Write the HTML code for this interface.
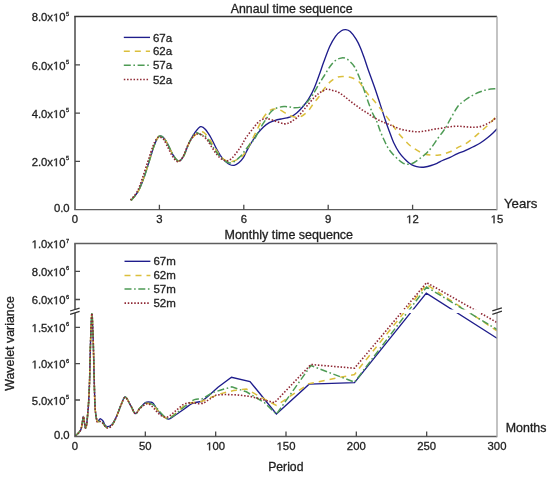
<!DOCTYPE html><html><head><meta charset="utf-8"><style>html,body{margin:0;padding:0;background:#fff;}svg{display:block;will-change:transform;}text{font-family:"Liberation Sans",sans-serif;fill:#1e1e1e;stroke:#222;stroke-width:0.3px;}.o{fill-opacity:0;stroke-opacity:0;}</style></head><body>
<svg width="550" height="477" viewBox="0 0 550 477">
<rect width="550" height="477" fill="#fff"/>
<defs><clipPath id="ct"><rect x="75" y="16.55" width="422" height="193.1"/></clipPath>
<clipPath id="cb"><path d="M75,243.5 H497 V436.5 H75 Z M70,309.6 L502,309.6 L502,313.0 L70,313.0 Z" clip-rule="evenodd"/></clipPath></defs>
<path d="M131.0,200.5 C132.2,199.0 135.8,195.4 138.0,191.6 C140.2,187.8 142.0,182.9 143.9,177.7 C145.8,172.5 147.7,165.9 149.4,160.5 C151.1,155.1 152.8,149.2 154.2,145.5 C155.6,141.8 156.6,139.6 157.6,138.0 C158.6,136.4 159.2,135.9 160.3,136.0 C161.4,136.1 162.9,136.8 164.3,138.5 C165.7,140.2 167.3,143.5 168.8,146.3 C170.3,149.1 171.7,152.9 173.3,155.3 C174.9,157.8 176.8,160.8 178.5,161.0 C180.2,161.2 181.7,159.4 183.5,156.3 C185.3,153.2 187.5,146.3 189.4,142.3 C191.3,138.3 193.3,134.8 195.2,132.2 C197.1,129.6 198.9,127.2 200.6,126.7 C202.3,126.2 203.8,127.6 205.5,129.5 C207.2,131.4 209.4,135.0 211.1,138.0 C212.8,141.0 214.2,144.4 215.7,147.3 C217.2,150.2 218.8,153.0 220.3,155.3 C221.9,157.6 223.4,159.6 225.0,161.1 C226.6,162.6 228.1,163.8 229.6,164.5 C231.1,165.2 232.7,165.6 234.2,165.3 C235.7,165.0 237.3,164.1 238.8,162.8 C240.3,161.5 242.1,159.5 243.4,157.6 C244.7,155.7 245.1,154.1 246.5,151.5 C247.9,148.9 249.8,145.2 251.7,142.2 C253.5,139.2 255.6,135.9 257.6,133.4 C259.6,130.9 261.6,128.7 263.5,126.9 C265.4,125.1 267.4,123.7 269.3,122.6 C271.2,121.5 273.2,120.9 275.2,120.3 C277.2,119.7 279.1,119.4 281.1,119.0 C283.1,118.6 285.4,118.2 287.0,117.8 C288.6,117.4 289.4,117.5 291.0,116.7 C292.6,115.9 294.8,114.6 296.7,113.0 C298.6,111.4 300.6,109.3 302.6,107.0 C304.6,104.7 306.5,102.5 308.5,99.2 C310.5,96.0 312.8,91.5 314.5,87.5 C316.2,83.5 317.4,79.8 319.0,75.5 C320.6,71.2 322.0,66.6 323.8,61.8 C325.6,57.0 327.8,50.9 329.7,46.6 C331.6,42.4 333.6,38.9 335.5,36.3 C337.4,33.6 339.7,31.8 341.4,30.7 C343.1,29.6 344.3,29.5 345.8,29.6 C347.3,29.8 348.5,30.0 350.2,31.6 C351.9,33.2 354.4,36.4 356.1,39.1 C357.8,41.8 359.2,44.8 360.5,47.9 C361.8,51.0 362.8,53.9 364.1,57.5 C365.4,61.1 366.5,65.0 368.2,69.7 C369.9,74.5 372.2,80.4 374.1,86.0 C376.1,91.6 378.0,97.6 379.9,103.4 C381.8,109.2 384.0,116.3 385.6,121.0 C387.2,125.7 388.2,128.2 389.5,131.8 C390.8,135.4 392.0,139.1 393.6,142.5 C395.2,145.9 397.2,149.6 399.1,152.3 C401.0,155.1 403.0,157.2 404.7,159.0 C406.4,160.8 407.8,162.1 409.4,163.2 C411.0,164.3 412.5,165.2 414.2,165.8 C415.9,166.5 417.7,166.9 419.5,167.1 C421.3,167.3 423.1,167.3 425.0,167.0 C426.9,166.7 429.1,166.1 431.1,165.5 C433.1,164.9 435.1,164.1 437.0,163.3 C438.9,162.5 440.3,161.5 442.5,160.5 C444.7,159.5 447.6,158.6 450.1,157.4 C452.6,156.2 455.1,154.7 457.6,153.6 C460.1,152.5 462.7,151.7 465.2,150.6 C467.7,149.5 470.2,148.3 472.7,147.0 C475.2,145.7 477.8,144.6 480.3,143.0 C482.8,141.4 485.7,139.2 487.8,137.5 C489.9,135.8 491.5,134.4 493.0,133.0 C494.5,131.6 496.3,129.5 497.0,128.8" stroke="#1f1d8c" stroke-width="1.35" fill="none" clip-path="url(#ct)"/>
<path d="M131.0,200.5 C132.2,199.0 135.8,195.4 138.0,191.6 C140.2,187.8 142.0,182.9 143.9,177.7 C145.8,172.5 147.7,165.9 149.4,160.5 C151.1,155.1 152.8,149.2 154.2,145.5 C155.6,141.8 156.6,139.6 157.6,138.0 C158.6,136.4 159.2,135.9 160.3,136.0 C161.4,136.1 162.9,136.8 164.3,138.5 C165.7,140.2 167.3,143.5 168.8,146.3 C170.3,149.1 171.7,152.9 173.3,155.3 C174.9,157.8 176.8,160.8 178.5,161.0 C180.2,161.2 181.7,159.4 183.5,156.3 C185.3,153.2 187.5,145.9 189.4,142.3 C191.3,138.8 193.1,136.8 195.2,135.0 C197.3,133.2 200.1,131.8 201.9,131.7 C203.7,131.6 204.7,133.2 206.0,134.5 C207.3,135.8 208.4,137.3 210.0,139.8 C211.6,142.3 213.8,146.4 215.7,149.3 C217.6,152.2 219.6,155.3 221.5,157.3 C223.4,159.3 225.6,160.6 227.3,161.3 C229.1,162.0 230.1,161.9 232.0,161.5 C233.9,161.1 236.7,159.9 238.8,158.6 C240.9,157.3 242.6,156.0 244.5,153.5 C246.4,151.0 248.4,147.0 250.3,143.4 C252.2,139.8 254.2,135.6 256.1,131.7 C258.1,127.8 260.3,122.9 262.0,119.9 C263.7,116.9 265.1,115.1 266.4,113.5 C267.7,111.9 268.8,111.0 270.0,110.3 C271.2,109.5 272.1,109.1 273.7,109.0 C275.3,108.9 277.4,109.0 279.6,109.8 C281.8,110.6 284.8,112.9 286.9,114.0 C289.0,115.1 290.1,115.8 292.0,116.3 C293.9,116.8 296.3,117.5 298.2,117.3 C300.1,117.1 301.8,116.1 303.5,115.0 C305.2,113.9 306.8,112.5 308.5,110.6 C310.2,108.7 311.8,105.8 313.5,103.5 C315.2,101.2 317.1,99.2 318.7,97.0 C320.3,94.8 321.5,92.4 323.0,90.3 C324.5,88.2 326.0,86.3 327.5,84.6 C329.0,82.9 330.3,81.6 332.0,80.3 C333.7,79.0 336.1,77.7 337.9,77.0 C339.7,76.3 341.3,76.4 343.0,76.4 C344.7,76.4 346.6,76.6 348.3,76.9 C350.0,77.2 351.3,77.4 353.1,78.2 C354.9,79.0 357.2,80.1 359.0,81.8 C360.8,83.5 362.1,86.2 363.8,88.5 C365.5,90.8 367.5,93.7 369.0,95.5 C370.5,97.3 371.4,97.7 373.0,99.5 C374.6,101.3 376.6,103.9 378.5,106.3 C380.4,108.7 382.2,111.0 384.3,113.7 C386.4,116.4 388.9,119.5 390.9,122.3 C392.9,125.1 394.3,127.8 396.4,130.5 C398.4,133.2 400.9,136.1 403.2,138.6 C405.5,141.1 407.7,143.6 410.0,145.5 C412.3,147.4 414.5,148.8 416.8,150.2 C419.1,151.6 421.4,152.9 423.7,153.7 C426.0,154.5 428.2,154.8 430.5,155.0 C432.8,155.2 435.3,155.3 437.3,155.2 C439.3,155.1 440.4,155.0 442.5,154.4 C444.6,153.8 447.5,152.9 450.0,151.8 C452.5,150.7 455.1,148.9 457.6,147.6 C460.1,146.3 462.7,145.5 465.2,144.0 C467.7,142.5 470.2,140.5 472.7,138.5 C475.2,136.5 477.8,134.1 480.3,131.9 C482.8,129.7 485.0,128.0 487.8,125.3 C490.6,122.6 495.5,117.1 497.0,115.5" stroke="#dbbf3c" stroke-width="1.5" fill="none" stroke-dasharray="6 5" clip-path="url(#ct)"/>
<path d="M131.0,200.5 C132.2,199.0 135.8,195.4 138.0,191.6 C140.2,187.8 142.0,182.9 143.9,177.7 C145.8,172.5 147.7,165.9 149.4,160.5 C151.1,155.1 152.8,149.2 154.2,145.5 C155.6,141.8 156.6,139.6 157.6,138.0 C158.6,136.4 159.2,135.9 160.3,136.0 C161.4,136.1 162.9,136.8 164.3,138.5 C165.7,140.2 167.3,143.5 168.8,146.3 C170.3,149.1 171.7,152.9 173.3,155.3 C174.9,157.8 176.8,160.8 178.5,161.0 C180.2,161.2 181.7,159.4 183.5,156.3 C185.3,153.2 187.5,146.2 189.4,142.3 C191.3,138.4 193.4,134.3 195.2,133.0 C197.0,131.7 198.3,133.6 200.0,134.2 C201.7,134.8 203.7,134.9 205.5,136.5 C207.3,138.1 209.4,141.6 211.1,144.0 C212.8,146.4 214.2,148.8 215.7,151.0 C217.2,153.2 218.8,155.3 220.3,157.0 C221.9,158.7 223.4,160.0 225.0,161.0 C226.6,162.0 228.1,162.9 229.6,163.0 C231.1,163.1 232.5,162.5 234.2,161.5 C235.9,160.5 238.2,158.6 240.0,156.8 C241.8,155.0 243.3,152.6 245.0,150.5 C246.7,148.4 248.4,145.9 250.0,144.0 C251.6,142.1 252.9,141.5 254.7,138.8 C256.4,136.1 258.6,131.2 260.5,127.8 C262.4,124.4 264.7,121.3 266.4,118.7 C268.1,116.1 269.1,113.8 270.8,112.0 C272.5,110.2 274.5,108.9 276.7,108.0 C278.9,107.1 281.8,106.8 284.0,106.6 C286.2,106.4 288.3,106.8 289.9,107.0 C291.5,107.2 291.9,107.7 293.8,107.7 C295.7,107.7 298.9,107.8 301.1,106.9 C303.3,106.0 305.0,104.4 307.0,102.3 C309.0,100.2 310.9,97.5 312.9,94.5 C314.8,91.5 316.8,87.7 318.7,84.5 C320.6,81.3 322.5,78.5 324.4,75.5 C326.3,72.5 328.1,69.0 330.0,66.5 C331.9,64.0 333.6,61.9 335.5,60.5 C337.4,59.1 339.7,58.2 341.4,57.9 C343.1,57.5 344.3,57.8 345.8,58.4 C347.3,59.0 348.7,60.4 350.2,61.8 C351.7,63.2 353.1,64.5 354.6,67.0 C356.1,69.5 357.7,73.4 359.2,77.0 C360.7,80.6 362.1,84.3 363.6,88.5 C365.1,92.7 366.7,97.9 368.2,102.0 C369.7,106.1 371.1,109.9 372.6,113.2 C374.1,116.5 375.8,119.1 377.0,122.0 C378.2,124.9 378.8,127.5 380.0,130.5 C381.2,133.5 382.7,137.1 384.1,140.0 C385.5,142.9 386.6,145.7 388.2,148.2 C389.8,150.7 391.8,153.0 393.6,155.0 C395.4,157.0 397.5,158.9 399.1,160.3 C400.7,161.7 401.8,162.5 403.0,163.2 C404.2,163.8 405.3,164.1 406.5,164.2 C407.7,164.3 408.7,164.3 410.0,164.0 C411.3,163.7 412.2,163.7 414.2,162.5 C416.1,161.3 419.5,158.8 421.7,157.1 C423.9,155.4 425.7,153.9 427.4,152.2 C429.1,150.5 430.4,149.0 432.1,146.7 C433.8,144.4 436.0,140.9 437.7,138.5 C439.4,136.1 441.1,134.1 442.5,132.2 C443.9,130.2 444.9,128.9 446.2,126.8 C447.5,124.7 448.2,122.8 450.1,119.5 C452.0,116.2 455.1,110.0 457.6,106.7 C460.1,103.5 462.7,101.9 465.2,100.0 C467.7,98.1 470.2,96.7 472.7,95.3 C475.2,93.9 477.8,92.8 480.3,91.8 C482.8,90.8 485.0,90.0 487.8,89.5 C490.6,89.0 495.5,88.7 497.0,88.5" stroke="#4e9b55" stroke-width="1.5" fill="none" stroke-dasharray="7 2.6 1.6 2.6" clip-path="url(#ct)"/>
<path d="M130.5,200.0 C131.6,198.7 135.0,195.6 137.0,192.0 C139.0,188.4 140.5,183.7 142.3,178.5 C144.1,173.3 146.2,166.4 148.0,161.0 C149.8,155.6 151.6,149.7 153.0,146.0 C154.4,142.3 155.5,140.5 156.5,139.0 C157.5,137.5 157.8,137.1 159.0,137.2 C160.2,137.2 162.0,137.6 163.5,139.3 C165.0,141.1 166.5,144.9 168.0,147.7 C169.5,150.5 170.9,154.0 172.5,156.3 C174.1,158.6 175.9,161.4 177.6,161.6 C179.3,161.8 180.8,160.3 182.6,157.3 C184.4,154.3 186.6,147.4 188.6,143.7 C190.6,140.0 192.7,136.8 194.3,135.2 C196.0,133.6 197.2,134.0 198.5,134.0 C199.8,134.0 200.6,134.3 201.9,135.2 C203.2,136.1 205.0,137.4 206.5,139.2 C208.0,141.0 209.6,143.8 211.1,146.1 C212.6,148.4 214.2,151.0 215.7,153.0 C217.2,155.0 218.8,156.9 220.3,158.2 C221.9,159.4 223.7,160.1 225.0,160.5 C226.3,160.9 227.2,161.0 228.4,160.6 C229.6,160.2 230.8,159.3 231.9,158.2 C233.1,157.1 234.2,155.6 235.3,154.2 C236.5,152.8 237.7,151.2 238.8,149.6 C240.0,148.0 241.0,146.4 242.2,144.4 C243.4,142.4 244.3,140.2 245.9,137.8 C247.5,135.4 249.8,132.7 251.7,130.2 C253.6,127.7 255.9,124.7 257.6,122.9 C259.3,121.1 260.5,120.3 262.0,119.6 C263.5,118.9 264.7,118.5 266.4,118.6 C268.1,118.7 270.4,119.4 272.3,120.0 C274.2,120.6 276.2,121.5 278.1,122.1 C280.1,122.7 282.4,123.6 284.0,123.8 C285.6,124.0 286.8,123.7 288.0,123.3 C289.2,122.9 290.1,122.4 291.5,121.5 C292.9,120.6 294.8,119.6 296.7,117.9 C298.6,116.2 300.6,113.6 302.6,111.3 C304.6,109.0 306.6,106.3 308.5,104.0 C310.4,101.7 312.6,99.2 314.3,97.4 C316.0,95.7 317.1,94.6 318.5,93.5 C319.9,92.4 321.5,91.7 322.8,91.0 C324.1,90.3 325.0,89.5 326.1,89.3 C327.2,89.0 328.3,89.3 329.4,89.5 C330.5,89.7 331.6,90.2 332.7,90.5 C333.8,90.8 334.9,90.9 336.0,91.3 C337.1,91.7 338.2,92.2 339.3,92.8 C340.4,93.4 341.5,94.2 342.6,95.0 C343.7,95.8 344.9,96.7 345.9,97.5 C346.9,98.3 347.8,99.2 348.8,100.0 C349.8,100.8 351.0,101.7 352.1,102.5 C353.2,103.3 354.3,104.2 355.4,105.0 C356.5,105.8 357.6,106.4 358.7,107.2 C359.8,108.0 360.9,109.0 362.0,109.8 C363.1,110.6 364.2,111.1 365.3,111.8 C366.4,112.5 367.4,113.0 368.6,113.8 C369.8,114.6 371.0,115.8 372.6,116.8 C374.2,117.8 376.6,119.0 378.5,120.0 C380.4,121.0 382.4,121.8 384.3,122.6 C386.2,123.4 388.4,124.2 390.0,124.8 C391.6,125.4 391.9,125.7 393.6,126.4 C395.4,127.1 398.2,128.4 400.5,129.1 C402.8,129.8 405.0,130.2 407.3,130.6 C409.6,131.0 411.8,131.4 414.1,131.6 C416.4,131.8 418.6,131.8 420.9,131.6 C423.2,131.4 425.4,130.9 427.7,130.5 C430.0,130.1 432.1,129.5 434.6,129.1 C437.1,128.7 439.9,128.5 442.5,128.1 C445.1,127.7 447.6,127.1 450.1,126.8 C452.6,126.5 455.1,126.2 457.6,126.2 C460.1,126.2 462.7,126.6 465.2,126.8 C467.7,127.0 470.2,127.2 472.7,127.2 C475.2,127.2 477.8,127.2 480.3,126.6 C482.8,126.0 485.8,124.4 487.8,123.4 C489.8,122.4 491.0,121.9 492.5,120.8 C494.0,119.7 496.2,117.6 497.0,117.0" stroke="#8f2834" stroke-width="1.6" fill="none" stroke-dasharray="1.5 1.75" clip-path="url(#ct)"/>
<path d="M75,16.55 V209.65" stroke="#4a4a4a" stroke-width="1.5" fill="none"/>
<path d="M74.25,209.65 H497" stroke="#5c5c5c" stroke-width="1.4" fill="none"/>
<path d="M74.25,16.55 H497" stroke="#333" stroke-width="1.4" fill="none"/>
<path d="M497,16.55 V210.35" stroke="#a4a4a4" stroke-width="1.3" fill="none"/>
<path d="M75,161.38 h5 M75,113.10 h5 M75,64.83 h5 M159.40,209.65 v-5 M243.80,209.65 v-5 M328.20,209.65 v-5 M412.60,209.65 v-5 " stroke="#4a4a4a" stroke-width="1.3" fill="none"/>
<text x="65.6" y="166.2" font-size="11.3" text-anchor="end">2.0x<tspan class="o">1</tspan>0</text><text x="66.1" y="160.4" font-size="5.6">5</text>
<text x="65.6" y="117.9" font-size="11.3" text-anchor="end">4.0x<tspan class="o">1</tspan>0</text><text x="66.1" y="112.1" font-size="5.6">5</text>
<text x="65.6" y="69.6" font-size="11.3" text-anchor="end">6.0x<tspan class="o">1</tspan>0</text><text x="66.1" y="63.8" font-size="5.6">5</text>
<text x="65.6" y="21.4" font-size="11.3" text-anchor="end">8.0x<tspan class="o">1</tspan>0</text><text x="66.1" y="15.6" font-size="5.6">5</text>
<text x="69.6" y="211.8" font-size="11.3" text-anchor="end" >0.0</text>
<text x="75.0" y="223.2" font-size="11.3" text-anchor="middle" >0</text>
<text x="159.4" y="223.2" font-size="11.3" text-anchor="middle" >3</text>
<text x="243.8" y="223.2" font-size="11.3" text-anchor="middle" >6</text>
<text x="328.2" y="223.2" font-size="11.3" text-anchor="middle" >9</text>
<text x="412.6" y="223.2" font-size="11.3" text-anchor="middle" ><tspan class="o">1</tspan>2</text>
<text x="497.0" y="223.2" font-size="11.3" text-anchor="middle" ><tspan class="o">1</tspan>5</text>
<text x="230.8" y="12.9" font-size="12.3" text-anchor="start" >Annaul time sequence</text>
<text x="504.0" y="207.5" font-size="13.2" text-anchor="start" >Years</text>
<path d="M123.8,37.4 H150" stroke="#1f1d8c" stroke-width="1.35" fill="none"/>
<text x="152.9" y="41.5" font-size="11.5" text-anchor="start" >67a</text>
<path d="M123.8,51.2 H150" stroke="#dbbf3c" stroke-width="1.5" fill="none" stroke-dasharray="6 5"/>
<text x="152.9" y="55.3" font-size="11.5" text-anchor="start" >62a</text>
<path d="M123.8,65.3 H150" stroke="#4e9b55" stroke-width="1.5" fill="none" stroke-dasharray="7 2.6 1.6 2.6"/>
<text x="152.9" y="69.4" font-size="11.5" text-anchor="start" >57a</text>
<path d="M123.8,79.5 H149.5" stroke="#8f2834" stroke-width="1.6" fill="none" stroke-dasharray="1.5 1.75"/>
<text x="152.9" y="83.6" font-size="11.5" text-anchor="start" >52a</text>
<path d="M75.3,436.0 C75.9,435.4 77.7,433.9 78.7,432.7 C79.7,431.5 80.5,430.9 81.1,429.0 C81.7,427.1 82.1,423.5 82.5,421.4 C82.9,419.3 83.1,416.3 83.4,416.5 C83.7,416.7 84.1,420.5 84.4,422.4 C84.8,424.3 85.1,427.7 85.5,428.0 C85.9,428.3 86.3,426.6 86.7,424.2 C87.1,421.8 87.4,417.5 87.7,413.9 C88.0,410.3 88.3,408.1 88.6,402.5 C88.9,396.9 89.3,390.4 89.6,380.0 C89.9,369.6 90.2,351.1 90.6,340.0 C91.0,328.9 91.5,313.3 91.9,313.3 C92.3,313.3 92.8,328.9 93.2,340.0 C93.6,351.1 93.9,369.3 94.2,380.0 C94.5,390.7 94.7,398.8 94.9,404.4 C95.2,410.0 95.4,411.3 95.7,413.9 C96.0,416.5 96.3,418.9 96.8,420.0 C97.3,421.1 97.9,420.7 98.5,420.5 C99.1,420.3 99.8,418.7 100.6,418.8 C101.3,418.9 102.2,419.9 103.0,421.0 C103.8,422.1 104.3,424.3 105.1,425.2 C105.9,426.1 106.9,426.7 108.0,426.6 C109.1,426.5 110.5,426.0 111.7,424.7 C113.0,423.4 114.2,421.2 115.5,418.6 C116.8,416.0 118.3,411.7 119.3,409.2 C120.3,406.7 120.6,405.7 121.6,403.6 C122.6,401.6 123.8,396.6 125.3,396.9 C126.8,397.2 129.0,402.7 130.7,405.5 C132.4,408.3 133.8,413.2 135.3,413.6 C136.8,414.1 138.1,410.0 139.8,408.2 C141.5,406.4 143.5,403.7 145.3,402.7 C147.1,401.7 149.3,402.0 150.7,402.2 C152.1,402.4 152.3,402.2 153.5,403.6 C154.7,405.1 156.3,408.8 158.0,410.9 C159.7,413.0 161.7,415.0 163.5,416.4 C165.3,417.8 166.8,419.4 168.9,419.1 C171.0,418.8 173.5,416.3 176.2,414.5 C178.9,412.7 182.6,410.1 185.3,408.2 C188.0,406.3 189.8,404.4 192.5,403.3 C195.2,402.2 200.1,401.8 201.6,401.5 L208.9,395.5 L218.0,387.3 L231.5,377.3 L250.0,381.5 L276.4,414.0 L309.1,384.2 L354.5,382.7 L426.3,293.2 L497.0,338.3" stroke="#1f1d8c" stroke-width="1.35" fill="none" clip-path="url(#cb)"/>
<path d="M75.3,436.0 C75.9,435.4 77.7,433.9 78.7,432.7 C79.7,431.5 80.5,430.9 81.1,429.0 C81.7,427.1 82.1,423.5 82.5,421.4 C82.9,419.3 83.1,416.3 83.4,416.5 C83.7,416.7 84.1,420.5 84.4,422.4 C84.8,424.3 85.1,427.7 85.5,428.0 C85.9,428.3 86.3,426.6 86.7,424.2 C87.1,421.8 87.4,417.5 87.7,413.9 C88.0,410.3 88.3,408.1 88.6,402.5 C88.9,396.9 89.3,390.4 89.6,380.0 C89.9,369.6 90.2,351.1 90.6,340.0 C91.0,328.9 91.5,313.3 91.9,313.3 C92.3,313.3 92.8,328.9 93.2,340.0 C93.6,351.1 93.9,369.3 94.2,380.0 C94.5,390.7 94.7,398.8 94.9,404.4 C95.2,410.0 95.4,411.3 95.7,413.9 C96.0,416.5 96.3,418.7 96.8,420.0 C97.3,421.3 97.9,421.6 98.5,421.8 C99.1,422.0 99.8,421.0 100.6,421.3 C101.3,421.6 102.2,422.7 103.0,423.5 C103.8,424.3 104.3,425.6 105.1,426.3 C105.9,427.1 106.9,428.1 108.0,428.0 C109.1,427.9 110.5,427.2 111.7,425.7 C113.0,424.2 114.2,421.7 115.5,419.0 C116.8,416.3 118.3,412.1 119.3,409.5 C120.3,406.9 120.6,405.7 121.6,403.6 C122.6,401.5 123.8,396.6 125.3,396.9 C126.8,397.2 129.0,402.7 130.7,405.5 C132.4,408.3 133.8,413.2 135.3,413.6 C136.8,414.1 138.1,409.9 139.8,408.2 C141.5,406.5 143.5,404.1 145.3,403.4 C147.1,402.7 149.1,403.4 150.7,404.0 C152.3,404.6 153.4,405.5 155.0,407.0 C156.6,408.5 158.3,411.2 160.0,413.0 C161.7,414.8 163.5,416.6 165.0,417.5 C166.5,418.4 167.0,419.1 168.9,418.3 C170.8,417.6 173.5,415.2 176.2,413.0 C178.9,410.8 182.3,406.8 185.3,405.0 C188.3,403.2 191.7,402.8 194.4,402.2 C197.1,401.6 200.4,401.6 201.6,401.5 L208.9,398.2 L220.9,393.6 L233.6,390.5 L246.4,389.1 L264.5,399.1 L276.4,405.5 L309.1,383.6 L354.5,374.5 L360.0,367.3 L426.6,284.5 L497.0,330.8" stroke="#dbbf3c" stroke-width="1.5" fill="none" stroke-dasharray="6 5" clip-path="url(#cb)"/>
<path d="M75.3,436.0 C75.9,435.4 77.7,433.9 78.7,432.7 C79.7,431.5 80.5,430.9 81.1,429.0 C81.7,427.1 82.1,423.5 82.5,421.4 C82.9,419.3 83.1,416.3 83.4,416.5 C83.7,416.7 84.1,420.5 84.4,422.4 C84.8,424.3 85.1,427.7 85.5,428.0 C85.9,428.3 86.3,426.6 86.7,424.2 C87.1,421.8 87.4,417.5 87.7,413.9 C88.0,410.3 88.3,408.1 88.6,402.5 C88.9,396.9 89.3,390.4 89.6,380.0 C89.9,369.6 90.2,351.1 90.6,340.0 C91.0,328.9 91.5,313.3 91.9,313.3 C92.3,313.3 92.8,328.9 93.2,340.0 C93.6,351.1 93.9,369.3 94.2,380.0 C94.5,390.7 94.7,398.8 94.9,404.4 C95.2,410.0 95.4,411.3 95.7,413.9 C96.0,416.5 96.3,418.7 96.8,420.0 C97.3,421.3 97.9,421.3 98.5,421.5 C99.1,421.7 99.8,420.8 100.6,421.0 C101.3,421.2 102.2,422.2 103.0,423.0 C103.8,423.8 104.3,425.2 105.1,426.0 C105.9,426.8 106.9,427.9 108.0,427.8 C109.1,427.7 110.5,427.0 111.7,425.5 C113.0,424.0 114.2,421.7 115.5,419.0 C116.8,416.3 118.3,412.1 119.3,409.5 C120.3,406.9 120.6,405.7 121.6,403.6 C122.6,401.5 123.8,396.6 125.3,396.9 C126.8,397.2 129.0,402.7 130.7,405.5 C132.4,408.3 133.8,413.2 135.3,413.6 C136.8,414.1 138.1,409.9 139.8,408.2 C141.5,406.5 143.5,404.0 145.3,403.2 C147.1,402.4 149.1,403.1 150.7,403.6 C152.3,404.1 153.4,404.6 155.0,406.0 C156.6,407.4 158.3,410.2 160.0,412.0 C161.7,413.8 163.5,415.9 165.0,417.0 C166.5,418.1 167.0,419.1 168.9,418.5 C170.8,417.9 173.5,415.6 176.2,413.5 C178.9,411.4 182.3,408.3 185.3,406.0 C188.3,403.7 191.7,400.8 194.4,399.6 C197.1,398.5 200.4,399.2 201.6,399.1 L212.5,392.7 L220.9,390.0 L231.8,386.9 L246.4,391.8 L264.5,402.7 L276.4,414.2 L310.9,365.5 L354.5,382.2 L426.6,287.0 L497.0,329.5" stroke="#4e9b55" stroke-width="1.5" fill="none" stroke-dasharray="7 2.6 1.6 2.6" clip-path="url(#cb)"/>
<path d="M75.3,436.0 C75.9,435.4 77.7,433.9 78.7,432.7 C79.7,431.5 80.5,430.9 81.1,429.0 C81.7,427.1 82.1,423.5 82.5,421.4 C82.9,419.3 83.1,416.3 83.4,416.5 C83.7,416.7 84.1,420.5 84.4,422.4 C84.8,424.3 85.1,427.7 85.5,428.0 C85.9,428.3 86.3,426.6 86.7,424.2 C87.1,421.8 87.4,417.5 87.7,413.9 C88.0,410.3 88.3,408.1 88.6,402.5 C88.9,396.9 89.3,390.4 89.6,380.0 C89.9,369.6 90.2,351.1 90.6,340.0 C91.0,328.9 91.5,313.3 91.9,313.3 C92.3,313.3 92.8,328.9 93.2,340.0 C93.6,351.1 93.9,369.3 94.2,380.0 C94.5,390.7 94.7,398.8 94.9,404.4 C95.2,410.0 95.4,411.3 95.7,413.9 C96.0,416.5 96.6,418.7 96.8,420.0 C97.0,421.3 96.5,421.6 97.1,421.9 C97.7,422.1 99.6,421.2 100.6,421.5 C101.6,421.8 102.2,422.7 103.0,423.5 C103.8,424.3 104.3,425.6 105.1,426.3 C105.9,427.1 106.9,428.1 108.0,428.0 C109.1,427.9 110.5,427.2 111.7,425.7 C113.0,424.2 114.2,421.7 115.5,419.0 C116.8,416.3 118.3,412.1 119.3,409.5 C120.3,406.9 120.6,405.6 121.6,403.6 C122.6,401.6 123.8,397.0 125.3,397.3 C126.8,397.6 129.0,402.8 130.7,405.5 C132.4,408.2 133.8,413.1 135.3,413.6 C136.9,414.1 138.2,410.1 140.0,408.5 C141.8,406.9 144.3,404.6 146.0,404.0 C147.7,403.4 148.7,403.9 150.0,404.6 C151.3,405.3 152.5,406.9 153.8,408.2 C155.1,409.5 156.3,411.3 157.6,412.6 C158.9,413.9 160.0,415.0 161.5,415.8 C163.0,416.6 165.0,417.3 166.5,417.2 C168.0,417.1 169.1,416.2 170.4,415.3 C171.7,414.4 172.9,413.1 174.2,412.0 C175.5,410.9 176.5,410.0 178.0,408.8 C179.5,407.6 181.4,405.6 183.1,404.6 C184.8,403.6 186.5,403.3 188.2,403.0 C189.9,402.7 191.6,402.8 193.3,402.9 C195.0,403.0 196.6,403.6 198.3,403.7 C200.0,403.8 202.6,403.4 203.4,403.3 L208.5,399.9 L212.3,397.4 L216.2,395.0 L224.5,394.5 L237.3,394.9 L250.0,396.4 L260.9,399.1 L274.5,402.7 L310.9,364.5 L354.5,368.2 L426.6,282.6 L497.0,322.5" stroke="#8f2834" stroke-width="1.6" fill="none" stroke-dasharray="1.5 1.75" clip-path="url(#cb)"/>
<path d="M75,243.5 V309.6 M75,313.0 V436.5" stroke="#4a4a4a" stroke-width="1.5" fill="none"/>
<path d="M74.25,436.5 H497" stroke="#5c5c5c" stroke-width="1.4" fill="none"/>
<path d="M74.25,243.5 H497" stroke="#5e5e5e" stroke-width="1.4" fill="none"/>
<path d="M497,243.5 V309.6 M497,313.0 V437.2" stroke="#a4a4a4" stroke-width="1.3" fill="none"/>
<path d="M70.1,311 L79.6,308.1 M70.1,314.4 L79.6,311.3 M492.3,310.8 L501.9,307.8 M492.3,314.3 L501.9,311.2" stroke="#333" stroke-width="1.3" fill="none"/>
<path d="M75,271.40 h5 M75,299.50 h5 M75,327.30 h5 M75,363.60 h5 M75,400.00 h5 M145.33,436.5 v-5 M215.67,436.5 v-5 M286.00,436.5 v-5 M356.33,436.5 v-5 M426.67,436.5 v-5 " stroke="#4a4a4a" stroke-width="1.3" fill="none"/>
<text x="65.6" y="248.3" font-size="11.3" text-anchor="end"><tspan class="o">1</tspan>.0x<tspan class="o">1</tspan>0</text><text x="66.1" y="242.5" font-size="5.6">7</text>
<text x="65.6" y="276.2" font-size="11.3" text-anchor="end">8.0x<tspan class="o">1</tspan>0</text><text x="66.1" y="270.4" font-size="5.6">6</text>
<text x="65.6" y="304.3" font-size="11.3" text-anchor="end">6.0x<tspan class="o">1</tspan>0</text><text x="66.1" y="298.5" font-size="5.6">6</text>
<text x="65.6" y="332.1" font-size="11.3" text-anchor="end"><tspan class="o">1</tspan>.5x<tspan class="o">1</tspan>0</text><text x="66.1" y="326.3" font-size="5.6">6</text>
<text x="65.6" y="368.4" font-size="11.3" text-anchor="end"><tspan class="o">1</tspan>.0x<tspan class="o">1</tspan>0</text><text x="66.1" y="362.6" font-size="5.6">6</text>
<text x="65.6" y="404.8" font-size="11.3" text-anchor="end">5.0x<tspan class="o">1</tspan>0</text><text x="66.1" y="399.0" font-size="5.6">5</text>
<text x="69.6" y="438.6" font-size="11.3" text-anchor="end" >0.0</text>
<text x="75.0" y="450.3" font-size="11.3" text-anchor="middle" >0</text>
<text x="145.3" y="450.3" font-size="11.3" text-anchor="middle" >50</text>
<text x="215.7" y="450.3" font-size="11.3" text-anchor="middle" ><tspan class="o">1</tspan>00</text>
<text x="286.0" y="450.3" font-size="11.3" text-anchor="middle" ><tspan class="o">1</tspan>50</text>
<text x="356.3" y="450.3" font-size="11.3" text-anchor="middle" >200</text>
<text x="426.7" y="450.3" font-size="11.3" text-anchor="middle" >250</text>
<text x="497.0" y="450.3" font-size="11.3" text-anchor="middle" >300</text>
<text x="224.5" y="238.8" font-size="12.5" text-anchor="start" >Monthly time sequence</text>
<text x="505.8" y="432.1" font-size="12.4" text-anchor="start" >Months</text>
<text x="268.2" y="470.5" font-size="12.2" text-anchor="start" >Period</text>
<text x="0" y="0" font-size="12.4" text-anchor="middle" transform="translate(13.9,343.5) rotate(-90)">Wavelet variance</text>
<path d="M124.5,261.3 H150.4" stroke="#1f1d8c" stroke-width="1.35" fill="none"/>
<text x="153.4" y="265.2" font-size="11.5" text-anchor="start" >67m</text>
<path d="M124.5,275.5 H150.4" stroke="#dbbf3c" stroke-width="1.5" fill="none" stroke-dasharray="6 5"/>
<text x="153.4" y="279.4" font-size="11.5" text-anchor="start" >62m</text>
<path d="M124.5,289.0 H150.4" stroke="#4e9b55" stroke-width="1.5" fill="none" stroke-dasharray="7 2.6 1.6 2.6"/>
<text x="153.4" y="292.9" font-size="11.5" text-anchor="start" >57m</text>
<path d="M124.5,303.1 H150" stroke="#8f2834" stroke-width="1.6" fill="none" stroke-dasharray="1.5 1.75"/>
<text x="153.4" y="307.1" font-size="11.5" text-anchor="start" >52m</text>
<path d="M55.85,166.20 L55.85,159.37 L54.09,160.63 L54.09,159.69 L55.93,158.43 L56.85,158.43 L56.85,166.20Z M55.85,117.90 L55.85,111.07 L54.09,112.33 L54.09,111.39 L55.93,110.13 L56.85,110.13 L56.85,117.90Z M55.85,69.60 L55.85,62.77 L54.09,64.03 L54.09,63.09 L55.93,61.83 L56.85,61.83 L56.85,69.60Z M55.85,21.40 L55.85,14.57 L54.09,15.83 L54.09,14.89 L55.93,13.63 L56.85,13.63 L56.85,21.40Z M409.14,223.20 L409.14,216.37 L407.39,217.63 L407.39,216.69 L409.23,215.43 L410.14,215.43 L410.14,223.20Z M493.54,223.20 L493.54,216.37 L491.79,217.63 L491.79,216.69 L493.63,215.43 L494.54,215.43 L494.54,223.20Z M34.47,248.30 L34.47,241.47 L32.72,242.73 L32.72,241.79 L34.56,240.53 L35.47,240.53 L35.47,248.30Z M55.85,248.30 L55.85,241.47 L54.09,242.73 L54.09,241.79 L55.93,240.53 L56.85,240.53 L56.85,248.30Z M55.85,276.20 L55.85,269.37 L54.09,270.63 L54.09,269.69 L55.93,268.43 L56.85,268.43 L56.85,276.20Z M55.85,304.30 L55.85,297.47 L54.09,298.73 L54.09,297.79 L55.93,296.53 L56.85,296.53 L56.85,304.30Z M34.47,332.10 L34.47,325.27 L32.72,326.53 L32.72,325.59 L34.56,324.33 L35.47,324.33 L35.47,332.10Z M55.85,332.10 L55.85,325.27 L54.09,326.53 L54.09,325.59 L55.93,324.33 L56.85,324.33 L56.85,332.10Z M34.47,368.40 L34.47,361.57 L32.72,362.83 L32.72,361.89 L34.56,360.63 L35.47,360.63 L35.47,368.40Z M55.85,368.40 L55.85,361.57 L54.09,362.83 L54.09,361.89 L55.93,360.63 L56.85,360.63 L56.85,368.40Z M55.85,404.80 L55.85,397.97 L54.09,399.23 L54.09,398.29 L55.93,397.03 L56.85,397.03 L56.85,404.80Z M209.10,450.30 L209.10,443.47 L207.35,444.73 L207.35,443.79 L209.19,442.53 L210.10,442.53 L210.10,450.30Z M279.40,450.30 L279.40,443.47 L277.65,444.73 L277.65,443.79 L279.49,442.53 L280.40,442.53 L280.40,450.30Z" fill="#1e1e1e" stroke="#222" stroke-width="0.3"/>
</svg></body></html>
